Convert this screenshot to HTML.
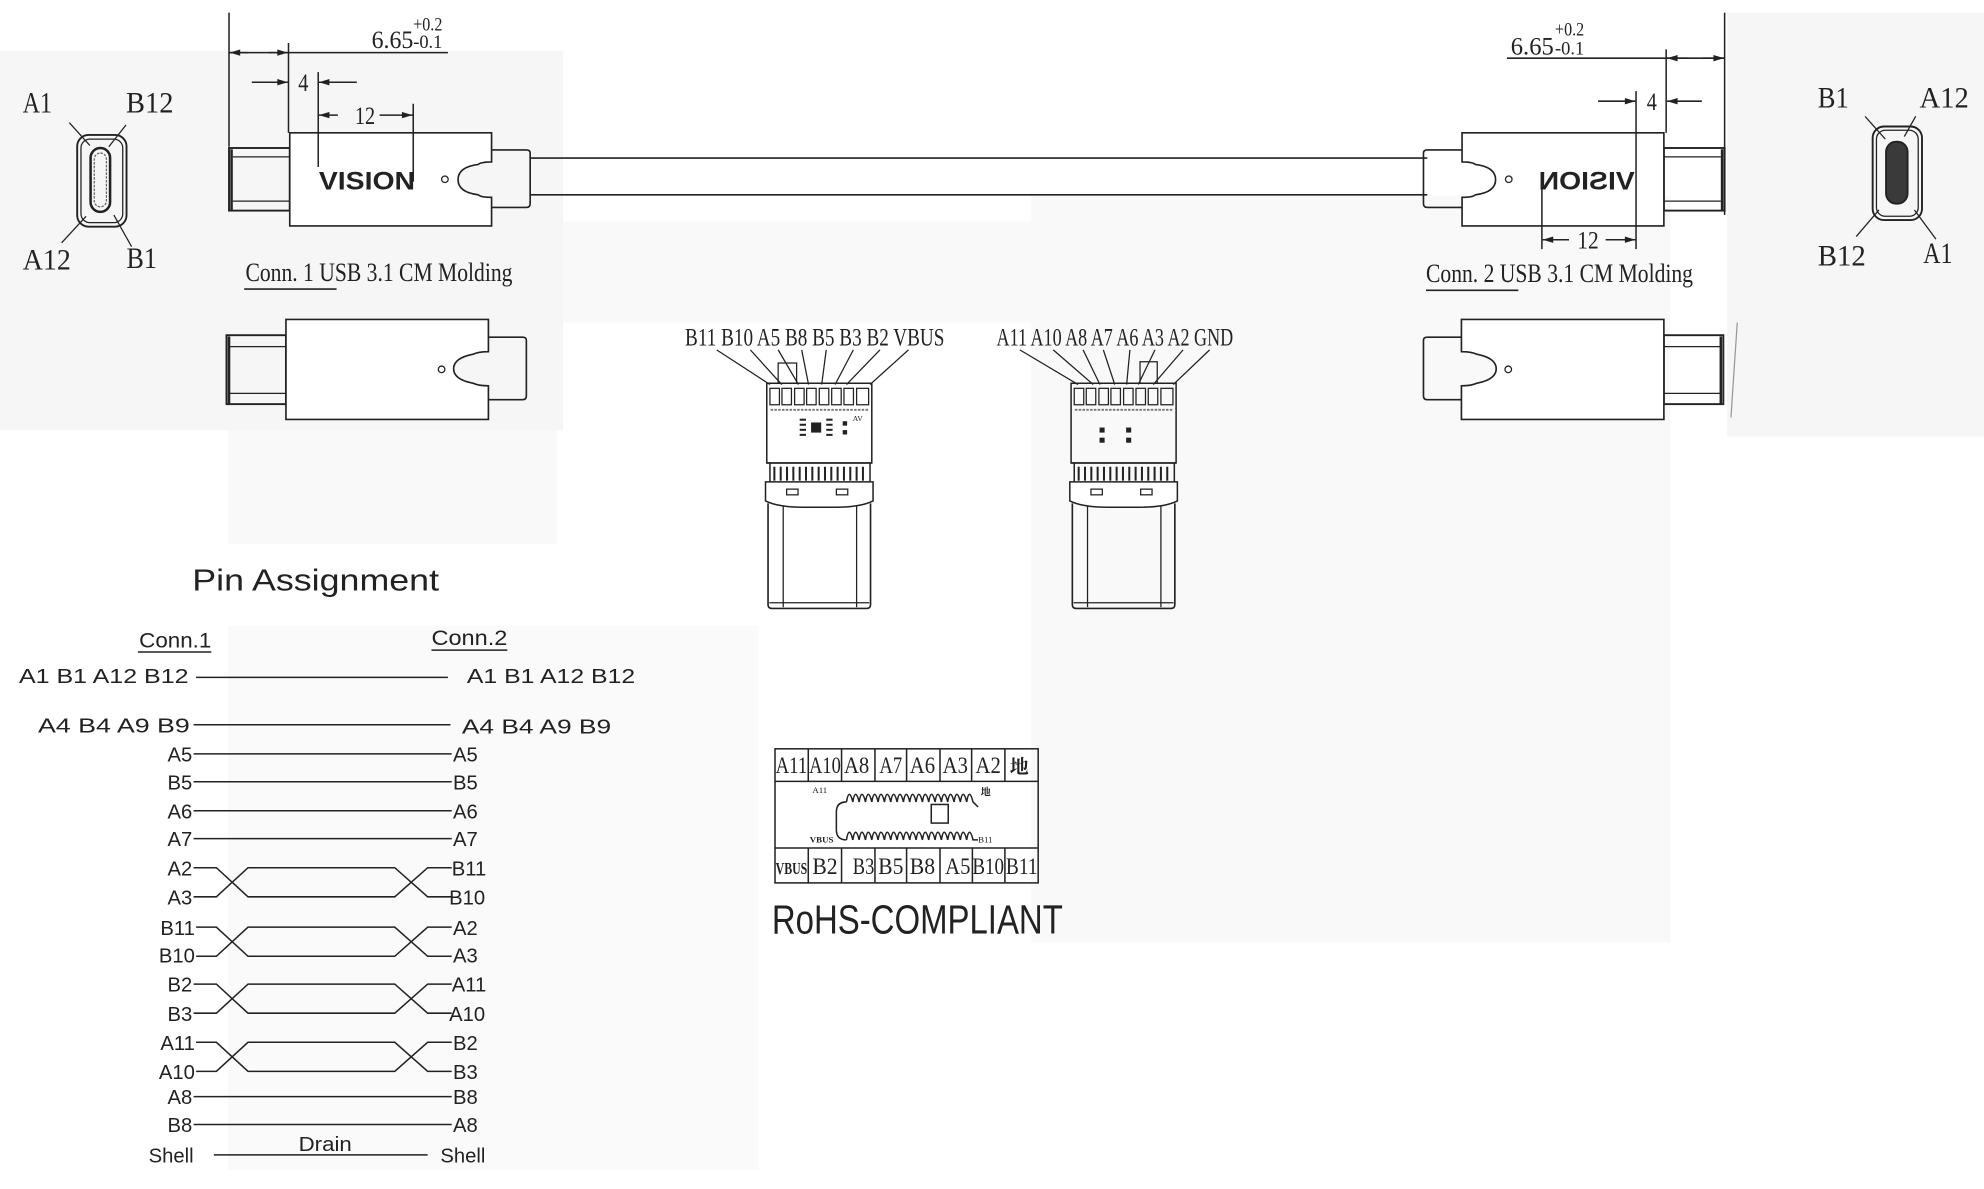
<!DOCTYPE html>
<html><head><meta charset="utf-8"><style>
html,body{margin:0;padding:0;background:#fff;}
svg{display:block;}
.s{font-family:"Liberation Serif","Noto Serif CJK SC",serif;fill:#222;}
.a{font-family:"Liberation Sans","Noto Sans CJK SC",sans-serif;fill:#222;}
</style></head><body>
<svg width="1984" height="1189" viewBox="0 0 1568 940" preserveAspectRatio="none" xmlns="http://www.w3.org/2000/svg">
<defs>
<marker id="ar" viewBox="0 0 10 6" refX="10" refY="3" markerWidth="9" markerHeight="5" orient="auto" markerUnits="userSpaceOnUse"><path d="M0,0 L10,3 L0,6 Z" fill="#222"/></marker>
<g id="pcb">
  <rect x="606" y="303" width="83" height="63" fill="none" stroke="#222" stroke-width="1.2"/>
  <g fill="none" stroke="#222" stroke-width="1">
    <rect x="608.5" y="307" width="7.5" height="13"/><rect x="618" y="307" width="7.5" height="13"/>
    <rect x="628" y="307" width="7.5" height="13"/><rect x="637.5" y="307" width="7.5" height="13"/>
    <rect x="647.5" y="307" width="7.5" height="13"/><rect x="657.3" y="307" width="7.5" height="13"/>
    <rect x="667" y="307" width="7.5" height="13"/><rect x="677" y="307" width="9.5" height="13"/>
  </g>
  <line x1="609" y1="324" x2="686" y2="324" stroke="#777" stroke-width="1.5" stroke-dasharray="2 1"/>
  <path d="M606,366 H689 M608.5,366 V381 M687.6,366 V381" stroke="#222" stroke-width="1.2" fill="none"/>
  <g stroke="#222" stroke-width="1.6">
    <line x1="612" y1="369" x2="612" y2="380"/><line x1="617" y1="369" x2="617" y2="380"/><line x1="622" y1="369" x2="622" y2="380"/><line x1="627" y1="369" x2="627" y2="380"/><line x1="632" y1="369" x2="632" y2="380"/><line x1="637" y1="369" x2="637" y2="380"/><line x1="642" y1="369" x2="642" y2="380"/><line x1="647" y1="369" x2="647" y2="380"/><line x1="652" y1="369" x2="652" y2="380"/><line x1="657" y1="369" x2="657" y2="380"/><line x1="662" y1="369" x2="662" y2="380"/><line x1="667" y1="369" x2="667" y2="380"/><line x1="672" y1="369" x2="672" y2="380"/><line x1="677" y1="369" x2="677" y2="380"/><line x1="682" y1="369" x2="682" y2="380"/>
  </g>
  <path d="M605,381 H690 V396 Q680,401 660,401 H635 Q615,401 605,396 Z" fill="#fff" stroke="#222" stroke-width="1.2"/>
  <rect x="621.7" y="386.7" width="9" height="4.5" fill="none" stroke="#222"/>
  <rect x="661" y="386.7" width="9" height="4.5" fill="none" stroke="#222"/>
  <path d="M607,398 V478 Q607,481 610,481 H685 Q688,481 688,478 V398" fill="none" stroke="#222" stroke-width="1.3"/>
  <line x1="619" y1="400" x2="619" y2="480" stroke="#222"/>
  <line x1="677" y1="400" x2="677" y2="480" stroke="#222"/>
  <line x1="608" y1="476.5" x2="687" y2="476.5" stroke="#222"/>
</g>
<g id="conn">
  <rect x="181" y="117" width="48" height="49.5" fill="none" stroke="#222" stroke-width="1.5"/>
  <line x1="184" y1="124" x2="229" y2="124" stroke="#222"/><line x1="184" y1="159" x2="229" y2="159" stroke="#222"/>
  <line x1="183" y1="118" x2="183" y2="166" stroke="#222" stroke-width="2"/>
  <path d="M229,105 H388.5 V128 Q380,128 378,130 Q362,132 362,142 Q362,152 378,154 Q380,156 388.5,156 V178.6 H229 Z" fill="#fff" stroke="#222" stroke-width="1.3"/>
  <path d="M388.5,118.5 H416 Q419,118.5 419,121 V161 Q419,164 416,164 H388.5" fill="none" stroke="#222" stroke-width="1.3"/>
  <circle cx="351.6" cy="141.7" r="2.6" fill="none" stroke="#222"/>
</g>
<g id="conn2">
  <rect x="179" y="265" width="47" height="54.5" fill="none" stroke="#222" stroke-width="1.5"/>
  <line x1="181" y1="274" x2="226" y2="274" stroke="#222"/><line x1="181" y1="311" x2="226" y2="311" stroke="#222"/>
  <line x1="181" y1="266" x2="181" y2="319" stroke="#222" stroke-width="2"/>
  <path d="M226,252.5 H386 V278 Q378,278 374,280 Q358.5,283 358.5,291.5 Q358.5,300 374,303 Q378,305 386,305 V331.6 H226 Z" fill="#fff" stroke="#222" stroke-width="1.3"/>
  <path d="M386,266.6 H413 Q416,266.6 416,269 V313 Q416,316 413,316 H386" fill="none" stroke="#222" stroke-width="1.3"/>
  <circle cx="349" cy="292" r="2.6" fill="none" stroke="#222"/>
</g>
</defs>

<!-- faint scan background -->
<rect x="0" y="40" width="445" height="300" fill="#f6f6f6"/>
<rect x="1365" y="0" width="203" height="345" fill="#f6f6f6"/>
<rect x="815" y="155" width="505" height="590" fill="#f9f9f9"/>
<rect x="180" y="340" width="260" height="90" fill="#f9f9f9"/>
<rect x="180" y="495" width="420" height="430" fill="#fafafa"/>
<rect x="445" y="175" width="370" height="80" fill="#f9f9f9"/>
<rect x="0" y="0" width="1568" height="10" fill="#fff"/>

<!-- cable -->
<line x1="419" y1="125" x2="1128" y2="125" stroke="#222" stroke-width="1.3"/>
<line x1="419" y1="154" x2="1128" y2="154" stroke="#222" stroke-width="1.3"/>

<use href="#conn"/>
<text x="252" y="150" class="a" font-weight="bold" font-size="20" textLength="76" lengthAdjust="spacingAndGlyphs">VISION</text>
<g transform="translate(1544,0) scale(-1,1)">
  <use href="#conn"/>
  <text x="252" y="150" class="a" font-weight="bold" font-size="20" textLength="76" lengthAdjust="spacingAndGlyphs">VISION</text>
</g>
<use href="#conn2"/>
<g transform="translate(1541,0) scale(-1,1)"><use href="#conn2"/></g>

<!-- left dimensions -->
<g stroke="#222" stroke-width="1.2" fill="none">
  <line x1="181" y1="10" x2="181" y2="116"/>
  <line x1="228" y1="34" x2="228" y2="105"/>
  <line x1="181" y1="41.6" x2="354" y2="41.6"/>
  <line x1="196" y1="41.6" x2="181.5" y2="41.6" marker-end="url(#ar)"/>
  <line x1="212" y1="41.6" x2="227.5" y2="41.6" marker-end="url(#ar)"/>
  <line x1="199" y1="65" x2="227.5" y2="65" marker-end="url(#ar)"/>
  <line x1="282" y1="65" x2="252" y2="65" marker-end="url(#ar)"/>
  <line x1="251.5" y1="57" x2="251.5" y2="132"/>
  <line x1="267" y1="91" x2="252" y2="91" marker-end="url(#ar)"/>
  <line x1="300" y1="91" x2="326" y2="91" marker-end="url(#ar)"/>
  <line x1="326.6" y1="82" x2="326.6" y2="143.6"/>
</g>
<text x="293.7" y="38" class="s" font-size="20" textLength="33" lengthAdjust="spacingAndGlyphs">6.65</text>
<text x="326.6" y="24" class="s" font-size="15" textLength="23" lengthAdjust="spacingAndGlyphs">+0.2</text>
<text x="326.6" y="38" class="s" font-size="15" textLength="23" lengthAdjust="spacingAndGlyphs">-0.1</text>
<text x="235.7" y="72" class="s" font-size="20" textLength="8" lengthAdjust="spacingAndGlyphs">4</text>
<text x="280.5" y="98" class="s" font-size="20" textLength="16" lengthAdjust="spacingAndGlyphs">12</text>

<!-- right dimensions -->
<g stroke="#222" stroke-width="1.2" fill="none">
  <line x1="1363" y1="10" x2="1363" y2="170"/>
  <line x1="1316.8" y1="39" x2="1316.8" y2="105"/>
  <line x1="1191" y1="46" x2="1363" y2="46"/>
  <line x1="1334" y1="46" x2="1317.5" y2="46" marker-end="url(#ar)"/>
  <line x1="1346" y1="46" x2="1362.5" y2="46" marker-end="url(#ar)"/>
  <line x1="1263" y1="80" x2="1292.5" y2="80" marker-end="url(#ar)"/>
  <line x1="1345" y1="80" x2="1317.5" y2="80" marker-end="url(#ar)"/>
  <line x1="1293" y1="72" x2="1293" y2="197"/>
  <line x1="1218.6" y1="147" x2="1218.6" y2="197"/>
  <line x1="1240" y1="189.5" x2="1219.2" y2="189.5" marker-end="url(#ar)"/>
  <line x1="1269" y1="189.5" x2="1292.5" y2="189.5" marker-end="url(#ar)"/>
</g>
<text x="1194" y="43" class="s" font-size="20" textLength="34" lengthAdjust="spacingAndGlyphs">6.65</text>
<text x="1229" y="28" class="s" font-size="15" textLength="23" lengthAdjust="spacingAndGlyphs">+0.2</text>
<text x="1229" y="43" class="s" font-size="15" textLength="23" lengthAdjust="spacingAndGlyphs">-0.1</text>
<text x="1301.5" y="87" class="s" font-size="20" textLength="8" lengthAdjust="spacingAndGlyphs">4</text>
<text x="1246.5" y="196.5" class="s" font-size="20" textLength="17" lengthAdjust="spacingAndGlyphs">12</text>

<!-- captions -->
<text x="194" y="222" class="s" font-size="21" textLength="211" lengthAdjust="spacingAndGlyphs">Conn. 1 USB 3.1 CM Molding</text>
<line x1="193" y1="228.5" x2="266" y2="228.5" stroke="#222" stroke-width="1.3"/>
<text x="1127" y="223" class="s" font-size="21" textLength="211" lengthAdjust="spacingAndGlyphs">Conn. 2 USB 3.1 CM Molding</text>
<line x1="1127" y1="229.5" x2="1200" y2="229.5" stroke="#222" stroke-width="1.3"/>

<!-- left port -->
<rect x="61" y="106.7" width="39" height="72.5" rx="9" fill="none" stroke="#222" stroke-width="1.5"/>
<rect x="64" y="110" width="33" height="66" rx="7" fill="none" stroke="#222" stroke-width="1"/>
<rect x="71.6" y="117" width="15.4" height="50.5" rx="7.7" fill="none" stroke="#222" stroke-width="2"/>
<rect x="74.5" y="121" width="9.6" height="42.5" rx="4.8" fill="none" stroke="#666" stroke-width="1" stroke-dasharray="2 1"/>
<g stroke="#222" stroke-width="1">
  <line x1="54.8" y1="97" x2="71" y2="115"/><line x1="99.6" y1="98.8" x2="86" y2="116"/>
  <line x1="48.7" y1="192" x2="68" y2="171"/><line x1="104" y1="195" x2="90" y2="170"/>
</g>
<text x="18" y="89" class="s" font-size="23" textLength="23" lengthAdjust="spacingAndGlyphs">A1</text>
<text x="99.6" y="89" class="s" font-size="23" textLength="37.5" lengthAdjust="spacingAndGlyphs">B12</text>
<text x="18" y="213" class="s" font-size="23" textLength="38" lengthAdjust="spacingAndGlyphs">A12</text>
<text x="100" y="212" class="s" font-size="23" textLength="24" lengthAdjust="spacingAndGlyphs">B1</text>

<!-- right port -->
<rect x="1480" y="100" width="39" height="74" rx="9" fill="none" stroke="#222" stroke-width="1.5"/>
<rect x="1483" y="103" width="33" height="68" rx="7" fill="none" stroke="#222" stroke-width="1"/>
<rect x="1490.6" y="112" width="17" height="49" rx="8" fill="#3a3a3a" stroke="#222" stroke-width="1.5"/>
<g stroke="#222" stroke-width="1">
  <line x1="1474" y1="92" x2="1490" y2="110"/><line x1="1514" y1="92" x2="1505" y2="108"/>
  <line x1="1467" y1="187" x2="1485" y2="166"/><line x1="1530" y1="189" x2="1513" y2="166"/>
</g>
<text x="1436.6" y="85" class="s" font-size="23" textLength="24.5" lengthAdjust="spacingAndGlyphs">B1</text>
<text x="1517" y="85" class="s" font-size="23" textLength="39" lengthAdjust="spacingAndGlyphs">A12</text>
<text x="1436.6" y="210" class="s" font-size="23" textLength="38" lengthAdjust="spacingAndGlyphs">B12</text>
<text x="1520" y="208" class="s" font-size="23" textLength="23" lengthAdjust="spacingAndGlyphs">A1</text>
<line x1="1373" y1="255" x2="1368" y2="330" stroke="#999" stroke-width="1"/>

<!-- PCB left -->
<use href="#pcb"/>
<rect x="615" y="287" width="14.6" height="16" fill="none" stroke="#222"/>
<g fill="#222">
  <rect x="641" y="334" width="8" height="8"/>
  <rect x="632" y="331" width="5" height="1.6"/><rect x="632" y="335" width="5" height="1.6"/><rect x="632" y="339" width="5" height="1.6"/><rect x="632" y="343" width="5" height="1.6"/>
  <rect x="653" y="331" width="5" height="1.6"/><rect x="653" y="335" width="5" height="1.6"/><rect x="653" y="339" width="5" height="1.6"/><rect x="653" y="343" width="5" height="1.6"/>
  <rect x="666" y="333" width="3.5" height="3.5"/><rect x="666" y="340" width="3.5" height="3.5"/>
</g>
<text x="674" y="333" class="s" font-size="6">AV</text>
<g stroke="#222" stroke-width="1">
  <line x1="566.4" y1="276.6" x2="608.5" y2="304"/><line x1="593" y1="276.6" x2="617.8" y2="304"/>
  <line x1="615" y1="276.6" x2="631" y2="304"/><line x1="633.6" y1="276.6" x2="639" y2="304"/>
  <line x1="653" y1="276.6" x2="649.4" y2="304"/><line x1="674.4" y1="276.6" x2="660" y2="304"/>
  <line x1="695.5" y1="276.6" x2="669" y2="304"/><line x1="718" y1="276.6" x2="687.6" y2="304"/>
</g>
<text x="541.4" y="273" class="s" font-size="20" textLength="205" lengthAdjust="spacingAndGlyphs">B11 B10 A5 B8 B5 B3 B2 VBUS</text>

<!-- PCB right -->
<g transform="translate(240.5,0)"><use href="#pcb"/></g>
<rect x="901" y="286" width="13.6" height="17" fill="none" stroke="#222"/>
<g fill="#222">
  <rect x="869" y="338" width="4" height="4"/><rect x="890" y="338" width="4" height="4"/>
  <rect x="869" y="346" width="4" height="4"/><rect x="890" y="346" width="4" height="4"/>
</g>
<g stroke="#222" stroke-width="1">
  <line x1="806" y1="276.6" x2="852" y2="304"/><line x1="832.4" y1="276.6" x2="864" y2="304"/>
  <line x1="856" y1="276.6" x2="869.3" y2="304"/><line x1="872" y1="276.6" x2="881" y2="304"/>
  <line x1="893" y1="276.6" x2="890.4" y2="304"/><line x1="912.8" y1="276.6" x2="899.6" y2="304"/>
  <line x1="935" y1="276.6" x2="911.5" y2="304"/><line x1="956" y1="276.6" x2="927.3" y2="304"/>
</g>
<text x="787.6" y="273" class="s" font-size="20" textLength="187" lengthAdjust="spacingAndGlyphs">A11 A10 A8 A7 A6 A3 A2 GND</text>

<!-- Pin assignment -->
<text x="152" y="467" class="a" font-size="24" textLength="195" lengthAdjust="spacingAndGlyphs">Pin Assignment</text>
<text x="110" y="512" class="a" font-size="17" textLength="57" lengthAdjust="spacingAndGlyphs">Conn.1</text>
<line x1="109" y1="515.5" x2="167" y2="515.5" stroke="#222" stroke-width="1.2"/>
<text x="341" y="510" class="a" font-size="17" textLength="60" lengthAdjust="spacingAndGlyphs">Conn.2</text>
<line x1="341" y1="514" x2="401" y2="514" stroke="#222" stroke-width="1.2"/>

<g class="a" font-size="16">
<text x="15" y="540" textLength="134" lengthAdjust="spacingAndGlyphs">A1 B1 A12 B12</text>
<text x="369" y="540" textLength="133" lengthAdjust="spacingAndGlyphs">A1 B1 A12 B12</text>
<text x="30" y="579" textLength="120" lengthAdjust="spacingAndGlyphs">A4 B4 A9 B9</text>
<text x="365" y="580" textLength="118" lengthAdjust="spacingAndGlyphs">A4 B4 A9 B9</text>
<g text-anchor="end">
<text x="152" y="602">A5</text><text x="152" y="624">B5</text><text x="152" y="647">A6</text><text x="152" y="669">A7</text>
<text x="152" y="692">A2</text><text x="152" y="715">A3</text><text x="154" y="739">B11</text><text x="154" y="761">B10</text>
<text x="152" y="784">B2</text><text x="152" y="807">B3</text><text x="154" y="830">A11</text><text x="154" y="853">A10</text>
<text x="152" y="873">A8</text><text x="152" y="895">B8</text><text x="153" y="919">Shell</text>
</g>
<text x="358" y="602">A5</text><text x="358" y="624">B5</text><text x="358" y="647">A6</text><text x="358" y="669">A7</text>
<text x="357" y="692">B11</text><text x="355" y="715">B10</text><text x="358" y="739">A2</text><text x="358" y="761">A3</text>
<text x="357" y="784">A11</text><text x="355" y="807">A10</text><text x="358" y="830">B2</text><text x="358" y="853">B3</text>
<text x="358" y="873">B8</text><text x="358" y="895">A8</text><text x="348" y="919">Shell</text>
<text x="236" y="910" textLength="42" lengthAdjust="spacingAndGlyphs">Drain</text>
</g>
<g stroke="#222" stroke-width="1.2" fill="none">
  <line x1="155" y1="535.5" x2="354" y2="535.5"/>
  <line x1="153" y1="573" x2="356" y2="573"/>
  <line x1="153" y1="596" x2="357" y2="596"/>
  <line x1="153" y1="618" x2="357" y2="618"/>
  <line x1="153" y1="641" x2="357" y2="641"/>
  <line x1="153" y1="663" x2="357" y2="663"/>
  <path d="M153,686 H171 L196,709 H312 L338,686 H357 M153,709 H171 L196,686 H312 L338,709 H357"/>
  <path d="M155,733 H171 L196,756 H312 L338,733 H357 M155,756 H171 L196,733 H312 L338,756 H357"/>
  <path d="M153,778 H171 L196,801 H312 L338,778 H357 M153,801 H171 L196,778 H312 L338,801 H357"/>
  <path d="M155,824 H171 L196,847 H312 L338,824 H357 M155,847 H171 L196,824 H312 L338,847 H357"/>
  <line x1="153" y1="867" x2="357" y2="867"/>
  <line x1="153" y1="889" x2="357" y2="889"/>
  <line x1="169" y1="913" x2="338" y2="913"/>
</g>

<!-- table -->
<g stroke="#222" stroke-width="1.2" fill="none">
  <rect x="612.5" y="592" width="208" height="106"/>
  <line x1="612.5" y1="617.7" x2="820.5" y2="617.7"/>
  <line x1="612.5" y1="670.4" x2="820.5" y2="670.4"/>
  <path d="M638.8,592 V617.7 M665.1,592 V617.7 M691.5,592 V617.7 M716.5,592 V617.7 M742.9,592 V617.7 M767.9,592 V617.7 M794.2,592 V617.7"/>
  <path d="M638.8,670.4 V698 M665.1,670.4 V698 M691.5,670.4 V698 M716.5,670.4 V698 M742.9,670.4 V698 M768.5,670.4 V698 M794.2,670.4 V698"/>
  <path d="M669,634 q-8,0 -8,8 v14 q0,8 8,8 M669,634 q2,-12 5,0 q2,-12 5,0 q2,-12 5,0 q2,-12 5,0 q2,-12 5,0 q2,-12 5,0 q2,-12 5,0 q2,-12 5,0 q2,-12 5,0 q2,-12 5,0 q2,-12 5,0 q2,-12 5,0 q2,-12 5,0 q2,-12 5,0 q2,-12 5,0 q2,-12 5,0 q2,-12 5,0 q2,-12 5,0 q2,-12 5,0 q2,-12 5,0 l4,4"/>
  <path d="M669,664 q2,-12 5,0 q2,-12 5,0 q2,-12 5,0 q2,-12 5,0 q2,-12 5,0 q2,-12 5,0 q2,-12 5,0 q2,-12 5,0 q2,-12 5,0 q2,-12 5,0 q2,-12 5,0 q2,-12 5,0 q2,-12 5,0 q2,-12 5,0 q2,-12 5,0 q2,-12 5,0 q2,-12 5,0 q2,-12 5,0 q2,-12 5,0 q2,-12 5,0 l4,0"/>
  <rect x="736" y="636" width="13.4" height="14.7"/>
</g>
<g class="s" font-size="18">
  <text x="613" y="611" textLength="25" lengthAdjust="spacingAndGlyphs">A11</text>
  <text x="639.5" y="611" textLength="25" lengthAdjust="spacingAndGlyphs">A10</text>
  <text x="667" y="611" textLength="20" lengthAdjust="spacingAndGlyphs">A8</text><text x="695" y="611" textLength="18" lengthAdjust="spacingAndGlyphs">A7</text><text x="719" y="611" textLength="20" lengthAdjust="spacingAndGlyphs">A6</text>
  <text x="745" y="611" textLength="20" lengthAdjust="spacingAndGlyphs">A3</text><text x="771" y="611" textLength="20" lengthAdjust="spacingAndGlyphs">A2</text>
  <text x="798" y="611" font-weight="bold" font-size="15">地</text>
  <text x="613" y="691" font-size="13" font-weight="bold" textLength="25" lengthAdjust="spacingAndGlyphs">VBUS</text>
  <text x="642" y="691" textLength="20" lengthAdjust="spacingAndGlyphs">B2</text><text x="674" y="691" textLength="17" lengthAdjust="spacingAndGlyphs">B3</text><text x="694" y="691" textLength="20" lengthAdjust="spacingAndGlyphs">B5</text>
  <text x="719" y="691" textLength="20" lengthAdjust="spacingAndGlyphs">B8</text><text x="747" y="691" textLength="20" lengthAdjust="spacingAndGlyphs">A5</text>
  <text x="768.5" y="691" textLength="25" lengthAdjust="spacingAndGlyphs">B10</text>
  <text x="795" y="691" textLength="25" lengthAdjust="spacingAndGlyphs">B11</text>
  <text x="642" y="627" font-size="7">A11</text>
  <text x="775" y="629" font-size="8" font-weight="bold">地</text>
  <text x="640" y="666" font-size="7" font-weight="bold">VBUS</text>
  <text x="773" y="666" font-size="7">B11</text>
</g>
<text x="610" y="738" class="a" font-size="32" textLength="230" lengthAdjust="spacingAndGlyphs">RoHS-COMPLIANT</text>
</svg>
</body></html>
